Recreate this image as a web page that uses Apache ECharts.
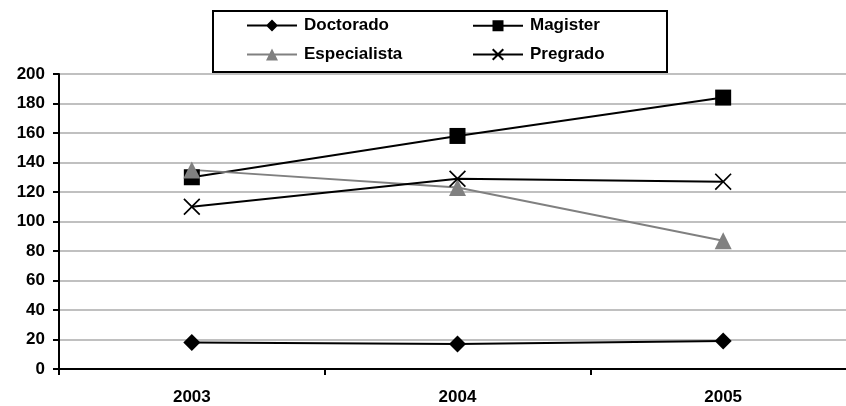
<!DOCTYPE html>
<html>
<head>
<meta charset="utf-8">
<script src="https://cdn.jsdelivr.net/npm/echarts@6/dist/echarts.min.js"></script>
<style>
html,body{margin:0;padding:0;background:#fff;overflow:hidden;width:846px;height:406px;}
#c{width:900px;height:406px;}
</style>
</head>
<body>
<div id="c"></div>
<script>
const categories = ['2003', '2004', '2005'];
const doctorado = [18, 17, 19];
const magister = [130, 158, 184];
const especialista = [135, 123, 87];
const pregrado = [110, 129, 127];
const yTicks = [0, 20, 40, 60, 80, 100, 120, 140, 160, 180, 200];

const FONT = "'Liberation Sans', Arial, sans-serif";
const xPath = 'path://M0,7L7,0L50,43L93,0L100,7L57,50L100,93L93,100L50,57L7,100L0,93L43,50Z';

// legend icons: 2px line with the marker in the middle (50 x 12 box)
const BAR = 'M0,5H50V7H0Z';
const icDiamond = 'path://' + BAR + 'M25,0L31,6L25,12L19,6Z';
const icSquare = 'path://' + BAR + 'M19.5,0.5H30.5V11.5H19.5Z M19.5,0H19.5Z';
const icTriangle = 'path://' + BAR + 'M25,0L31,12L19,12Z';
const d = 1.4;
const icCross = 'path://' + BAR + 'M19,' + d + 'L' + (19 + d) + ',0L25,' + (6 - d) + 'L' + (31 - d) + ',0L31,' + d +
  'L' + (25 + d) + ',6L31,' + (12 - d) + 'L' + (31 - d) + ',12L25,' + (6 + d) + 'L' + (19 + d) + ',12L19,' + (12 - d) +
  'L' + (25 - d) + ',6Z';

const chart = echarts.init(document.getElementById('c'), null, {renderer: 'canvas'});
const labelStyle = {color: '#000', fontFamily: FONT, fontWeight: 'bold', fontSize: 17};

const legendBase = {
  orient: 'vertical', top: 17, padding: 0,
  itemWidth: 50, itemHeight: 12, itemGap: 12, z: 5,
  textStyle: Object.assign({padding: [0, 0, 0, 2]}, labelStyle)
};

chart.setOption({
  animation: false,
  backgroundColor: '#fff',
  graphic: [{
    type: 'rect', z: 0,
    shape: {x: 213, y: 11, width: 454, height: 61},
    style: {fill: '#fff', stroke: '#000', lineWidth: 2}
  }],
  legend: [Object.assign({}, legendBase, {
    left: 247,
    data: [{name: 'Doctorado', icon: icDiamond}, {name: 'Especialista', icon: icTriangle}]
  }), Object.assign({}, legendBase, {
    left: 473,
    data: [{name: 'Magister', icon: icSquare}, {name: 'Pregrado', icon: icCross}]
  })],
  grid: {left: 59, top: 74, right: 44, bottom: 36, containLabel: false},
  xAxis: {
    type: 'category', data: categories, boundaryGap: true,
    axisLine: {lineStyle: {color: '#000', width: 2}},
    axisTick: {show: true, length: 6, lineStyle: {color: '#000', width: 2}},
    axisLabel: Object.assign({margin: 20}, labelStyle),
    splitLine: {show: false}
  },
  yAxis: {
    type: 'value', min: yTicks[0], max: yTicks[yTicks.length - 1], interval: 20,
    axisLine: {show: true, lineStyle: {color: '#000', width: 2}},
    axisTick: {show: true, length: 6, lineStyle: {color: '#000', width: 2}},
    axisLabel: Object.assign({margin: 14}, labelStyle),
    splitLine: {show: true, lineStyle: {color: '#c0c0c0', width: 2}}
  },
  series: [{
    name: 'Doctorado', type: 'line', data: doctorado,
    symbol: 'diamond', symbolSize: 17,
    lineStyle: {color: '#000', width: 2}, itemStyle: {color: '#000'}
  }, {
    name: 'Magister', type: 'line', data: magister,
    symbol: 'rect', symbolSize: 16,
    lineStyle: {color: '#000', width: 2}, itemStyle: {color: '#000'}
  }, {
    name: 'Especialista', type: 'line', data: especialista,
    symbol: 'triangle', symbolSize: 17,
    lineStyle: {color: '#808080', width: 2}, itemStyle: {color: '#808080'}
  }, {
    name: 'Pregrado', type: 'line', data: pregrado,
    symbol: xPath, symbolSize: 17,
    lineStyle: {color: '#000', width: 2}, itemStyle: {color: '#000'}
  }]
});
</script>
</body>
</html>
